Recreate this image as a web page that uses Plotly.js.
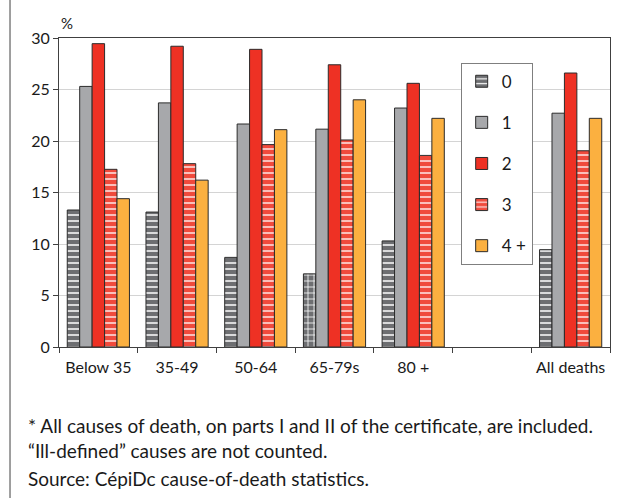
<!DOCTYPE html>
<html>
<head>
<meta charset="utf-8">
<script src="https://cdn.plot.ly/plotly-3.0.1.min.js"></script>
<style>
html,body{margin:0;padding:0;background:#fff;}
#chart{width:624px;height:498px;}
</style>
</head>
<body>
<div id="chart"></div>
<script>
const categories = ["Below 35", "35-49", "50-64", "65-79s", "80 +", " ", "All deaths"];
const seriesNames = ["0", "1", "2", "3", "4 +"];
const values0 = [13.3, 13.1, 8.7, 7.1, 10.3, null, 9.45];
const values1 = [25.3, 23.7, 21.65, 21.15, 23.2, null, 22.7];
const values2 = [29.45, 29.2, 28.9, 27.4, 25.6, null, 26.6];
const values3 = [17.25, 17.8, 19.65, 20.1, 18.6, null, 19.05];
const values4 = [14.4, 16.2, 21.1, 24.0, 22.2, null, 22.2];
const yTicks = [0, 5, 10, 15, 20, 25, 30];
const pattern0Shapes = ["-", "-", "-", "+", "-", "", "-"];

const FONT = "Lato, 'Open Sans', sans-serif";
const outline = {color: "#2b2b2b", width: 1};

const traces = [
  {name: seriesNames[0], y: values0, marker: {color: "#6d6e71", line: outline,
    pattern: {shape: pattern0Shapes, bgcolor: "#6d6e71", fgcolor: "#ffffff", size: 6, solidity: 0.25}}},
  {name: seriesNames[1], y: values1, marker: {color: "#a7a8ab", line: outline}},
  {name: seriesNames[2], y: values2, marker: {color: "#ee3124", line: outline}},
  {name: seriesNames[3], y: values3, marker: {color: "#f04a3c", line: outline,
    pattern: {shape: "-", bgcolor: "#f04a3c", fgcolor: "#ffe6e6", size: 6, solidity: 0.25}}},
  {name: seriesNames[4], y: values4, marker: {color: "#fbb040", line: outline}}
].map((t, i) => Object.assign({type: "bar", x: categories, legendgroup: "g" + i, hoverinfo: "y"}, t));

const layout = {
  width: 624, height: 498,
  margin: {l: 59, r: 14, t: 38, b: 151},
  paper_bgcolor: "#ffffff", plot_bgcolor: "#ffffff",
  font: {family: FONT, size: 15, color: "#1a1a1a"},
  barmode: "group", bargap: 0.21, bargroupgap: 0,
  showlegend: true,
  legend: {x: 0.729, y: 0.92, xanchor: "left", yanchor: "top",
    bgcolor: "#ffffff", bordercolor: "#7f7f7f", borderwidth: 1,
    font: {family: FONT, size: 17, color: "#1a1a1a"},
    tracegroupgap: 16, itemwidth: 30, traceorder: "grouped"},
  xaxis: {type: "category", categoryorder: "array", categoryarray: categories,
    showline: true, linecolor: "#404040", linewidth: 1, mirror: true,
    ticks: "outside", tickson: "boundaries", ticklen: 5, tickcolor: "#404040",
    ticklabelstandoff: 6,
    showgrid: false, tickfont: {family: FONT, size: 16}, fixedrange: true},
  yaxis: {range: [0, 30], tickvals: yTicks, ticktext: yTicks.map(String),
    showline: true, linecolor: "#404040", linewidth: 1, mirror: true,
    ticks: "outside", ticklen: 5, tickcolor: "#404040",
    showgrid: true, gridcolor: "#d4d4d4", gridwidth: 1,
    zeroline: false, tickfont: {family: FONT, size: 16}, fixedrange: true},
  shapes: [
    {type: "line", xref: "paper", yref: "paper", x0: -0.0889, x1: -0.0889, y0: -2, y1: 2,
     line: {color: "#7f7f7f", width: 1.5}}
  ],
  annotations: [
    {xref: "paper", yref: "paper", x: 0.0, y: 1.012, xanchor: "left", yanchor: "bottom",
     text: "%", showarrow: false, font: {family: FONT, size: 15}},
    {xref: "paper", yref: "paper", x: -0.06, y: -0.21, xanchor: "left", yanchor: "top",
     align: "left", showarrow: false, font: {family: FONT, size: 19, color: "#1a1a1a"},
     text: "* All causes of death, on parts I and II of the certificate, are included.<br>\u201cIll-defined\u201d causes are not counted."},
    {xref: "paper", yref: "paper", x: -0.06, y: -0.382, xanchor: "left", yanchor: "top",
     align: "left", showarrow: false, font: {family: FONT, size: 19, color: "#1a1a1a"},
     text: "Source: C\u00e9piDc cause-of-death statistics."}
  ]
};

Plotly.newPlot("chart", traces, layout, {displayModeBar: false, staticPlot: true});
</script>
</body>
</html>
